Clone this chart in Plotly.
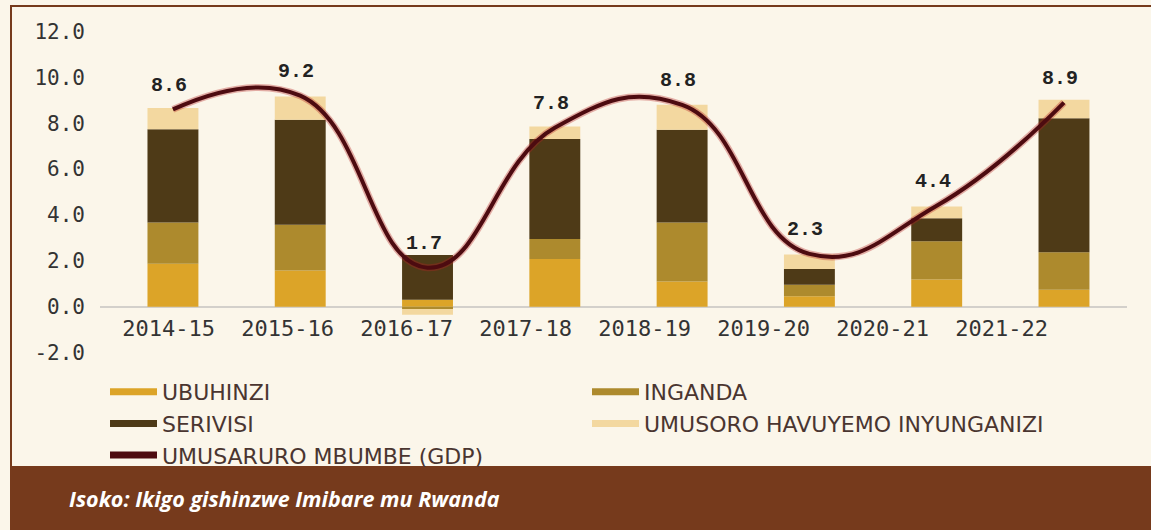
import plotly.graph_objects as go

# data
years = ["2014-15", "2015-16", "2016-17", "2017-18", "2018-19", "2019-20", "2020-21", "2021-22"]
ubuhinzi = [1.87, 1.58, 0.30, 2.08, 1.10, 0.45, 1.18, 0.74]
inganda = [1.80, 1.99, -0.10, 0.87, 2.57, 0.51, 1.67, 1.63]
serivisi = [4.07, 4.58, 1.95, 4.36, 4.04, 0.68, 1.01, 5.85]
umusoro = [0.92, 1.01, -0.25, 0.55, 1.09, 0.63, 0.51, 0.80]
gdp = [8.6, 9.2, 1.7, 7.8, 8.8, 2.3, 4.4, 8.9]
y_ticks = [-2, 0, 2, 4, 6, 8, 10, 12]

series = [
    ("UBUHINZI", ubuhinzi, "#dca428"),
    ("INGANDA", inganda, "#ad8a2d"),
    ("SERIVISI", serivisi, "#4e3a17"),
    ("UMUSORO HAVUYEMO INYUNGANIZI", umusoro, "#f3d8a0"),
]
gdp_name = "UMUSARURO MBUMBE (GDP)"
gdp_color = "#4d0b10"

W, H = 1151, 530
L, R, T, B = 100, 24, 20, 166
pw, ph = W - L - R, H - T - B


def px2x(px):
    return (px - L) / pw


def px2y(py):
    return (H - B - py) / ph


bg = "#fbf6ea"
brown = "#763a1c"

fig = go.Figure()

for name, vals, color in series:
    fig.add_trace(go.Bar(
        x=years, y=vals, name=name, marker=dict(color=color, line=dict(width=0)),
        width=0.4, showlegend=False, hoverinfo="y+name"
    ))

# soft red halo under the GDP curve
fig.add_trace(go.Scatter(
    x=years, y=gdp, mode="lines", showlegend=False, hoverinfo="skip",
    line=dict(color="rgba(180,35,35,0.35)", width=7, shape="spline", smoothing=1.3)
))
fig.add_trace(go.Scatter(
    x=years, y=gdp, mode="lines", name=gdp_name, showlegend=False,
    line=dict(color=gdp_color, width=4, shape="spline", smoothing=1.3)
))

# legend entries drawn as thick line swatches
for name, vals, color in series + [(gdp_name, gdp, gdp_color)]:
    fig.add_trace(go.Scatter(
        x=[None], y=[None], xaxis="x2", mode="lines", name=name,
        line=dict(color=color, width=7)
    ))

for yr, v in zip(years, gdp):
    fig.add_annotation(
        x=yr, y=v, text=f"{v:.1f}", showarrow=False, yshift=24, xshift=-4,
        font=dict(family="Liberation Mono", size=20, color="#222222", weight="bold")
    )

# frame and source footer
fig.add_shape(type="rect", xref="paper", yref="paper",
              x0=px2x(11), x1=px2x(1170), y0=px2y(470), y1=px2y(6),
              line=dict(color=brown, width=2), layer="below")
fig.add_shape(type="rect", xref="paper", yref="paper",
              x0=px2x(10), x1=px2x(1160), y0=px2y(540), y1=px2y(466),
              line=dict(width=0), fillcolor=brown, layer="above")
fig.add_annotation(
    xref="paper", yref="paper", x=px2x(67), y=px2y(498), xanchor="left", yanchor="middle",
    text="Isoko: Ikigo gishinzwe Imibare mu Rwanda", showarrow=False,
    font=dict(family="Open Sans", size=21.5, color="white", weight="bold", style="italic")
)

fig.update_layout(
    width=W, height=H,
    margin=dict(l=L, r=R, t=T, b=B, autoexpand=False),
    paper_bgcolor=bg, plot_bgcolor=bg,
    barmode="relative", bargap=0.6,
    xaxis=dict(type="category", range=[-0.573, 7.495], showticklabels=False,
               showgrid=False, zeroline=False, showline=False, fixedrange=True),
    xaxis2=dict(overlaying="x", anchor="free", position=px2y(307), side="bottom",
                range=[-0.577, 8.053], tickmode="array", tickvals=list(range(len(years))),
                ticktext=years, showgrid=False, zeroline=False, showline=False,
                ticks="", ticklabelstandoff=6,
                tickfont=dict(family="DejaVu Sans Mono", size=22, color="#333333")),
    yaxis=dict(range=[-2.5, 12.5], tickmode="array", tickvals=y_ticks,
               ticktext=[f"{t:.1f}" for t in y_ticks], showgrid=False,
               zeroline=True, zerolinecolor="#d3d0cb", zerolinewidth=2,
               showline=False, ticklabelstandoff=14,
               tickfont=dict(family="DejaVu Sans Mono", size=21, color="#333333")),
    legend=dict(orientation="h", x=px2x(105), y=px2y(371), xanchor="left", yanchor="top",
                entrywidth=420, entrywidthmode="pixels", itemwidth=47,
                bgcolor="rgba(0,0,0,0)", traceorder="normal",
                font=dict(family="DejaVu Sans", size=22, color="#4a3530")),
    showlegend=True,
)

fig.write_html("out.html", config={"displayModeBar": False},
               post_script="document.body.style.margin='0';")
